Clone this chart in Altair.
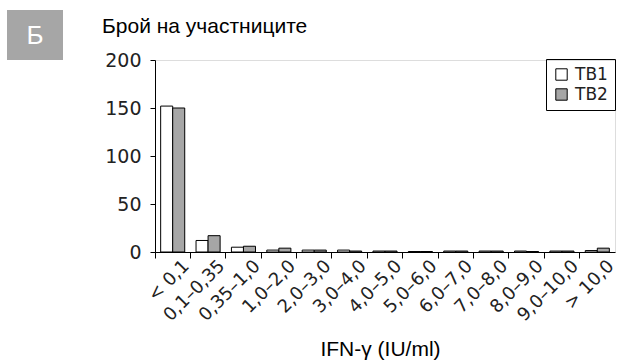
import altair as alt
import pandas as pd

categories = ["< 0,1", "0,1–0,35", "0,35–1,0", "1,0–2,0", "2,0–3,0", "3,0–4,0",
              "4,0–5,0", "5,0–6,0", "6,0–7,0", "7,0–8,0", "8,0–9,0", "9,0–10,0", "> 10,0"]
tb1 = [152, 12, 5, 2, 2, 2, 1, 0.5, 1, 1, 1, 1, 1.5]
tb2 = [150, 17, 6, 4, 2, 1, 1, 0.5, 1, 1, 0.5, 1, 4]
series = ["TB1", "TB2"]
y_ticks = [0, 50, 100, 150, 200]

rows = []
for c, a, b in zip(categories, tb1, tb2):
    rows.append({"cat": c, "series": "TB1", "value": a})
    rows.append({"cat": c, "series": "TB2", "value": b})
df = pd.DataFrame(rows)

FONT = "DejaVu Sans"

bars = alt.Chart(df).mark_bar(stroke="black", strokeWidth=1).encode(
    x=alt.X("cat:N", sort=categories,
            scale=alt.Scale(paddingInner=0, paddingOuter=0),
            axis=alt.Axis(title="IFN-γ (IU/ml)", labelAngle=-45, labelAlign="right",
                          labelBaseline="middle", bandPosition=0, labelOffset=14,
                          tickSize=6, labelPadding=5, labelFontSize=18, labelFont=FONT,
                          labelColor="#222", tickColor="black", domainColor="black",
                          titleFont="Liberation Sans", titleFontSize=21, titleFontWeight="normal",
                          titleColor="black", titleX=225, titleY=103, titleBaseline="alphabetic",
                          titleAnchor="middle", labelOverlap=False, labelBound=False)),
    xOffset=alt.XOffset("series:N", scale=alt.Scale(paddingInner=0, paddingOuter=0.47)),
    y=alt.Y("value:Q", scale=alt.Scale(domain=[0, 200], nice=False),
            axis=alt.Axis(title=None, values=y_ticks, grid=False, tickSize=5, labelPadding=9,
                          labelFontSize=19, labelFont=FONT, labelColor="#222",
                          tickColor="black", domainColor="black")),
    fill=alt.Fill("series:N", scale=alt.Scale(domain=series, range=["white", "#a6a6a6"]),
                  legend=alt.Legend(title=None, orient="none", legendX=391, legendY=-1,
                                    symbolType="square", symbolSize=130,
                                    symbolStrokeColor="black", symbolStrokeWidth=1,
                                    labelFont=FONT, labelFontSize=17, labelColor="#222",
                                    strokeColor="black", padding=7, rowPadding=2,
                                    labelOffset=5)),
)

title_df = pd.DataFrame({"t": ["Брой на участниците"]})
title = alt.Chart(title_df).mark_text(align="left", baseline="alphabetic", fontSize=21,
                                      font="Liberation Sans", color="black").encode(
    x=alt.value(-53), y=alt.value(-27), text="t:N")

badge_df = pd.DataFrame({"t": ["Б"]})
badge = alt.Chart(badge_df).mark_rect(color="#a6a6a6").encode(
    x=alt.value(-148), x2=alt.value(-92), y=alt.value(-50), y2=alt.value(0))
badge_text = alt.Chart(badge_df).mark_text(align="center", baseline="middle", fontSize=26,
                                           font="Liberation Sans", color="white").encode(
    x=alt.value(-120), y=alt.value(-24), text="t:N")

chart = alt.layer(bars, title, badge, badge_text).properties(
    width=460, height=192,
    autosize=alt.AutoSizeParams(type="none"),
    padding={"left": 155, "top": 60, "right": 8, "bottom": 109},
).configure_view(stroke=None).configure(background="white")

chart.save("out.html", embed_options={"renderer": "svg", "actions": False})
